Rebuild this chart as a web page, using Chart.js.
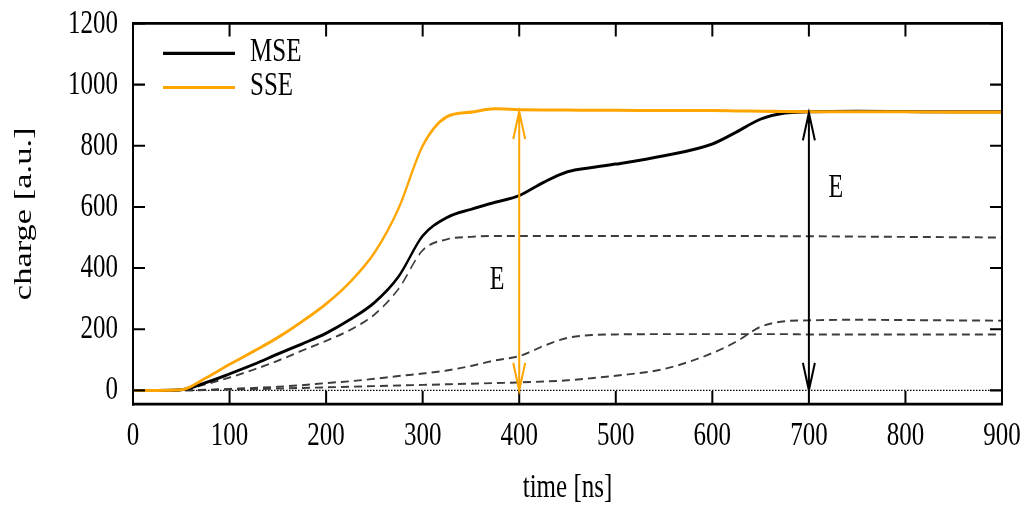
<!DOCTYPE html>
<html>
<head>
<meta charset="utf-8">
<script src="https://cdn.jsdelivr.net/npm/chart.js@4"></script>
<style>
  html, body { margin: 0; padding: 0; background: #fff; }
  #chart { display: block; }
</style>
</head>
<body>
<canvas id="chart" width="1022" height="509"></canvas>
<script>
// time axis samples [ns]
const timeNs = [0, 25, 50, 75, 100, 125, 150, 175, 200, 225, 250, 275, 300, 325, 350, 375, 400, 425, 450, 475, 500, 550, 600, 625, 650, 675, 700, 750, 800, 850, 900]

// summed signals
const mse = [0, 0, 2, 25, 54, 85, 119, 152, 187, 232, 287, 372, 505, 565, 592, 615, 637, 680, 715, 729, 740, 767, 806, 845, 887, 907, 911, 913, 912, 911, 911]
const sse = [0, 0, 2, 40, 85, 128, 173, 225, 283, 355, 450, 595, 800, 895, 910, 921, 918, 917, 917, 916, 916, 915, 915, 914, 913, 912, 911, 911, 911, 910, 910]

// the three MSE components (dashed)
const partA = [0, 0, 1, 20, 42, 68, 97, 130, 162, 198, 248, 332, 458, 494, 502, 505, 505, 505, 505, 505, 505, 505, 505, 505, 505, 504, 504, 503, 502, 501, 500]
const partB = [0, 0, 0, 2, 5, 8, 12, 17, 24, 30, 38, 47, 55, 65, 80, 98, 112, 145, 172, 181, 183, 184, 184, 184, 184, 184, 183, 183, 183, 183, 183]
const partC = [0, 0, 0, 1, 3, 4, 6, 8, 10, 12, 14, 16, 18, 20, 22, 24, 26, 29, 33, 40, 48, 70, 122, 160, 208, 226, 229, 231, 230, 229, 228]

// zero reference line
const zeroX = [0, 900]
const zeroY = [0, 0]

// E arrows
const arrowX = [400, 700]
const arrowTop = [912, 908]
const arrowLabelX = [377, 728]
const arrowLabelY = [359, 660]

// tick labels
const xTicks = [0, 100, 200, 300, 400, 500, 600, 700, 800, 900]
const yTicks = [0, 200, 400, 600, 800, 1000, 1200]

const ORANGE = '#ffa500'
const FONT = 'Liberation Serif'
const STRETCH = 509 / 369 // the source figure is stretched vertically

const toPoints = (xs, ys) => xs.map((x, i) => ({ x: x, y: ys[i] }))

const dashed = (values) => ({
  data: toPoints(timeNs, values),
  borderColor: '#3c3c3c',
  borderWidth: 1.4,
  borderDash: [8, 5],
  cubicInterpolationMode: 'monotone',
  pointRadius: 0,
  order: 3
})

// no extra room for overhanging tick labels, the layout padding sets the box
const noLabelPadding = s => {
  s.paddingTop = 0; s.paddingBottom = 0; s.paddingLeft = 0; s.paddingRight = 0
}

// lay out in 369px of height, then stretch the drawing to the full 509px
const stretch = {
  id: 'stretch',
  beforeDraw(chart) {
    chart.ctx.save()
    chart.ctx.scale(1, STRETCH)
  },
  afterDraw(chart) {
    chart.ctx.restore()
  }
}

// frame, inward ticks, arrows, labels and legend
const decorations = {
  id: 'decorations',
  afterDatasetsDraw(chart) {
    const ctx = chart.ctx
    const area = chart.chartArea
    const xs = chart.scales.x
    const ys = chart.scales.y
    ctx.save()
    ctx.strokeStyle = '#000'

    // top and right frame
    ctx.lineWidth = 2
    ctx.beginPath()
    ctx.moveTo(area.left, area.top)
    ctx.lineTo(area.right, area.top)
    ctx.lineTo(area.right, area.bottom)
    ctx.stroke()

    // inward ticks on all four sides
    ctx.lineWidth = 2
    xTicks.forEach(v => {
      const px = xs.getPixelForValue(v)
      ctx.beginPath()
      ctx.moveTo(px, area.bottom); ctx.lineTo(px, area.bottom - 9.5)
      ctx.moveTo(px, area.top); ctx.lineTo(px, area.top + 9.5)
      ctx.stroke()
    })
    ctx.lineWidth = 1.5
    yTicks.forEach(v => {
      const py = ys.getPixelForValue(v)
      ctx.beginPath()
      ctx.moveTo(area.left, py); ctx.lineTo(area.left + 12, py)
      ctx.moveTo(area.right, py); ctx.lineTo(area.right - 12, py)
      ctx.stroke()
    })

    // double arrows
    const colors = [ORANGE, '#000']
    arrowX.forEach((v, i) => {
      const px = xs.getPixelForValue(v)
      const top = ys.getPixelForValue(arrowTop[i])
      const bot = ys.getPixelForValue(0)
      ctx.strokeStyle = colors[i]
      ctx.lineWidth = 2
      ctx.beginPath()
      ctx.moveTo(px, top); ctx.lineTo(px, bot)
      ctx.moveTo(px - 6, top + 20); ctx.lineTo(px, top); ctx.lineTo(px + 6, top + 20)
      ctx.moveTo(px - 6, bot - 20); ctx.lineTo(px, bot); ctx.lineTo(px + 6, bot - 20)
      ctx.stroke()
    })

    // E labels
    ctx.fillStyle = '#000'
    ctx.font = '24px "' + FONT + '"'
    ctx.textAlign = 'center'
    ctx.textBaseline = 'middle'
    arrowLabelX.forEach((v, i) => {
      ctx.fillText('E', xs.getPixelForValue(v), ys.getPixelForValue(arrowLabelY[i]))
    })

    // legend
    const items = [['MSE', '#000'], ['SSE', ORANGE]]
    ctx.font = '25px "' + FONT + '"'
    ctx.textAlign = 'left'
    items.forEach((item, i) => {
      const y = area.top + 21.7 + i * 24.7
      ctx.strokeStyle = item[1]
      ctx.lineWidth = 2.2
      ctx.beginPath()
      ctx.moveTo(area.left + 30, y); ctx.lineTo(area.left + 102, y)
      ctx.stroke()
      ctx.fillStyle = '#000'
      ctx.fillText(item[0], area.left + 117, y - 1)
    })
    ctx.restore()
  }
}

const ctx = document.getElementById('chart').getContext('2d')
new Chart(ctx, {
  type: 'line',
  data: {
    datasets: [
      {
        data: toPoints(timeNs, sse),
        borderColor: ORANGE,
        borderWidth: 2.2,
        cubicInterpolationMode: 'monotone',
        pointRadius: 0,
        order: 1
      },
      {
        data: toPoints(timeNs, mse),
        borderColor: '#000',
        borderWidth: 2.2,
        cubicInterpolationMode: 'monotone',
        pointRadius: 0,
        order: 2
      },
      dashed(partA),
      dashed(partB),
      dashed(partC),
      {
        data: toPoints(zeroX, zeroY),
        borderColor: '#000',
        borderWidth: 0.8,
        borderDash: [1.5, 1.5],
        pointRadius: 0,
        order: 4
      }
    ]
  },
  plugins: [stretch, decorations],
  options: {
    responsive: false,
    animation: false,
    devicePixelRatio: 1,
    layout: { padding: { top: 17, right: 20, bottom: 509 - 369, left: 0 } },
    plugins: { legend: { display: false }, tooltip: { enabled: false } },
    scales: {
      x: {
        type: 'linear',
        min: 0,
        max: 900,
        afterBuildTicks: s => { s.ticks = xTicks.map(v => ({ value: v })) },
        afterFit: s => { s.height = 76; noLabelPadding(s) },
        ticks: { color: '#000', font: { family: FONT, size: 25 }, padding: 8, autoSkip: false, maxRotation: 0, callback: v => String(v) },
        grid: { display: false, drawTicks: false, tickLength: 0 },
        border: { display: true, color: '#000', width: 2 },
        title: { display: true, text: 'time [ns]', color: '#000', font: { family: FONT, size: 25 }, padding: { top: 0, bottom: 0 } }
      },
      y: {
        type: 'linear',
        min: -45,
        max: 1200,
        afterBuildTicks: s => { s.ticks = yTicks.map(v => ({ value: v })) },
        afterFit: s => { s.width = 133; noLabelPadding(s) },
        ticks: { color: '#000', font: { family: FONT, size: 25 }, padding: 15, callback: v => String(v) },
        grid: { display: false, drawTicks: false, tickLength: 0 },
        border: { display: true, color: '#000', width: 2 },
        title: { display: true, text: 'charge [a.u.]', color: '#000', font: { family: FONT, size: 25 }, padding: { top: 9, bottom: 0 } }
      }
    }
  }
})
</script>
</body>
</html>
